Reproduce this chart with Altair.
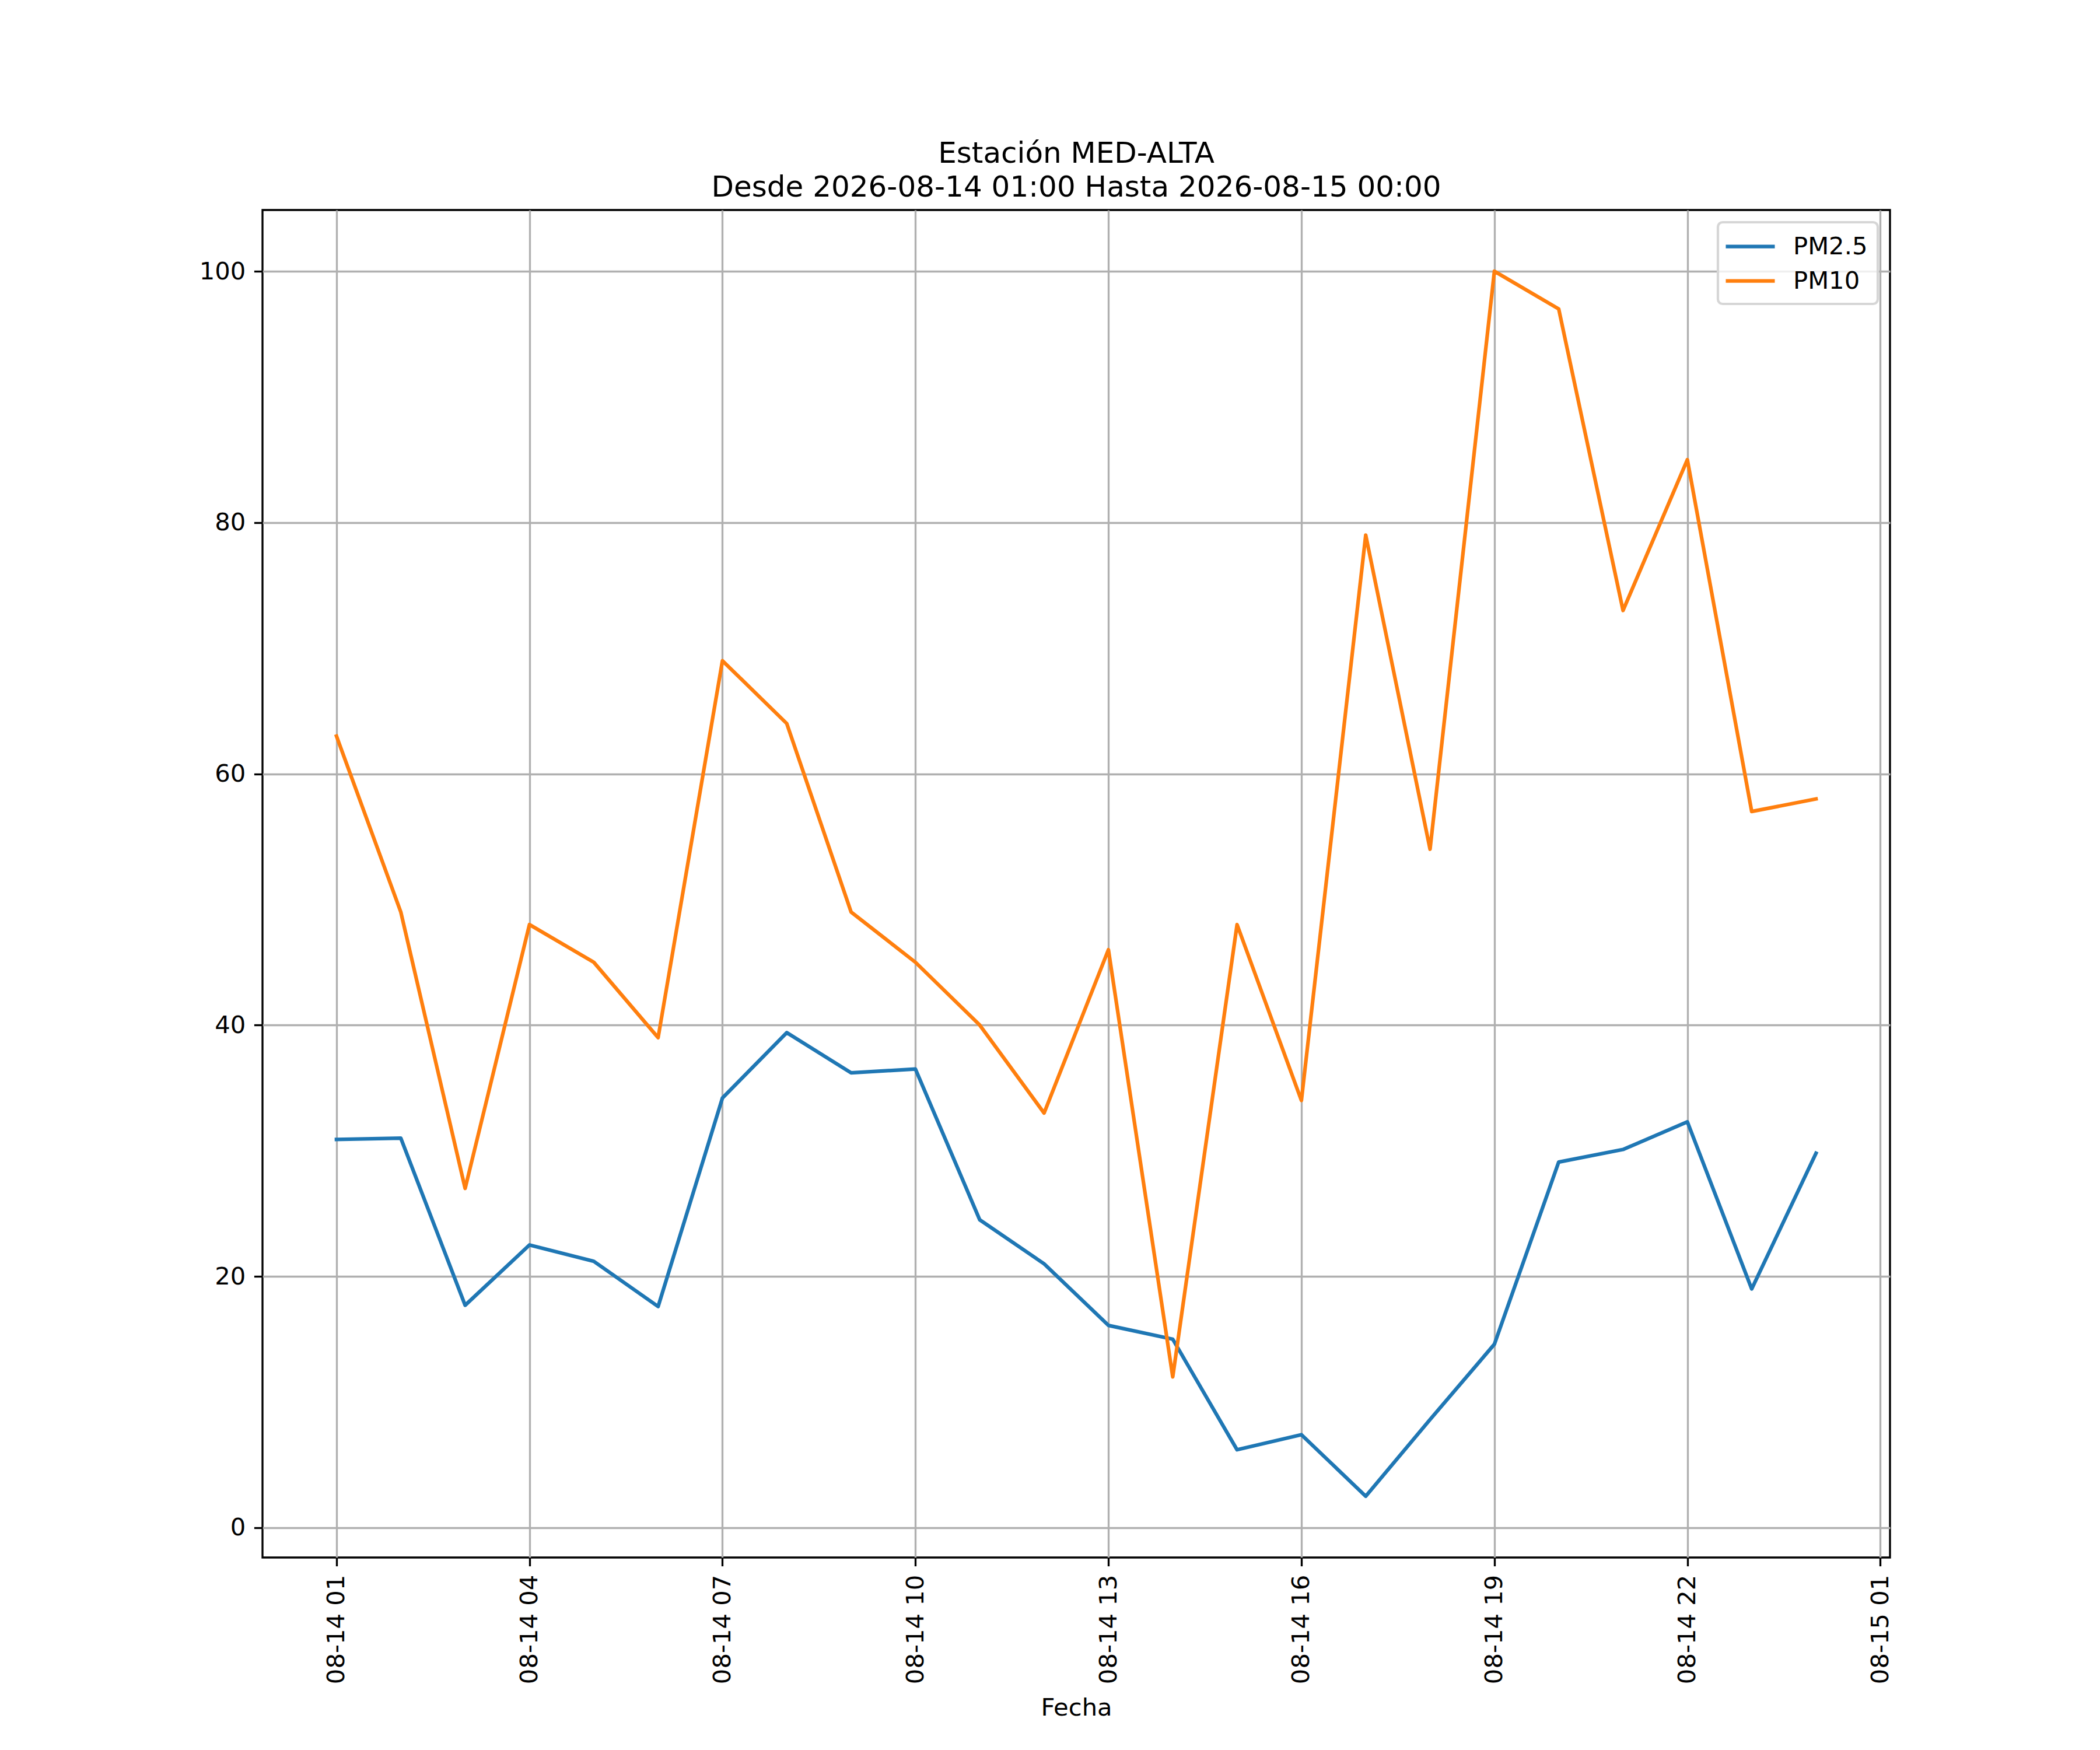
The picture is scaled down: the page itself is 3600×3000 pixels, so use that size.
import altair as alt
import pandas as pd

# ---- data ----
fechas = [
    "2026-08-14T01:00:00", "2026-08-14T02:00:00", "2026-08-14T03:00:00",
    "2026-08-14T04:00:00", "2026-08-14T05:00:00", "2026-08-14T06:00:00",
    "2026-08-14T07:00:00", "2026-08-14T08:00:00", "2026-08-14T09:00:00",
    "2026-08-14T10:00:00", "2026-08-14T11:00:00", "2026-08-14T12:00:00",
    "2026-08-14T13:00:00", "2026-08-14T14:00:00", "2026-08-14T15:00:00",
    "2026-08-14T16:00:00", "2026-08-14T17:00:00", "2026-08-14T18:00:00",
    "2026-08-14T19:00:00", "2026-08-14T20:00:00", "2026-08-14T21:00:00",
    "2026-08-14T22:00:00", "2026-08-14T23:00:00", "2026-08-15T00:00:00",
]
pm25 = [30.9, 31.0, 17.7, 22.5, 21.2, 17.6, 34.2, 39.4, 36.2, 36.5, 24.5, 21.0,
        16.1, 15.0, 6.2, 7.4, 2.5, 8.6, 14.6, 29.1, 30.1, 32.3, 19.0, 29.8]
pm10 = [63, 49, 27, 48, 45, 39, 69, 64, 49, 45, 40, 33,
        46, 12, 48, 34, 79, 54, 100, 97, 73, 85, 57, 58]
series = ["PM2.5", "PM10"]
colores = ["#1f77b4", "#ff7f0e"]
y_ticks = [0, 20, 40, 60, 80, 100]
titulo = ["Estación MED-ALTA", "Desde 2026-08-14 01:00 Hasta 2026-08-15 00:00"]

rows = []
for name, vals in zip(series, [pm25, pm10]):
    for f, v in zip(fechas, vals):
        rows.append({"Fecha": f, "valor": v, "serie": name})
df = pd.DataFrame(rows)

x_ticks = [alt.DateTime(year=2026, month=8, date=14, hours=h) for h in range(1, 24, 3)]
x_ticks.append(alt.DateTime(year=2026, month=8, date=15, hours=1))

FONT = "DejaVu Sans"
FS = 41.7
LW = 3.33

chart = alt.Chart(df).mark_line(strokeWidth=6.25, strokeJoin="round", strokeCap="square").encode(
    x=alt.X(
        "Fecha:T",
        title="Fecha",
        scale=alt.Scale(domain=[
            alt.DateTime(year=2026, month=8, date=13, hours=23, minutes=51),
            alt.DateTime(year=2026, month=8, date=15, hours=1, minutes=9),
        ]),
        axis=alt.Axis(values=x_ticks, format="%m-%d %H", labelAngle=270,
                      titlePadding=37, labelFlush=False, labelOverlap=False,
                      labelLimit=1000),
    ),
    y=alt.Y(
        "valor:Q",
        title=None,
        scale=alt.Scale(domain=[-2.375, 104.875], nice=False, zero=False),
        axis=alt.Axis(values=y_ticks, labelOverlap=False, labelLimit=1000),
    ),
    color=alt.Color(
        "serie:N",
        title=None,
        sort=series,
        scale=alt.Scale(domain=series, range=colores),
        legend=alt.Legend(
            orient="top-right", offset=21, padding=17,
            strokeColor="#d6d6d6", cornerRadius=8,
            fillColor="rgba(255,255,255,0.8)",
            symbolType="M-2,0H2", symbolSize=1764, symbolStrokeWidth=6.25,
            symbolOffset=14,
            labelFont=FONT, labelFontSize=FS, labelColor="black",
            labelOffset=49, rowPadding=12, labelLimit=1000,
        ),
    ),
    order=alt.Order("serie:N", sort="descending"),
).properties(
    width=2790,
    height=2310,
    padding={"left": 442, "top": 352, "right": 352, "bottom": 322},
    autosize=alt.AutoSizeParams(type="none"),
    background="white",
    title=alt.TitleParams(
        text=titulo, font=FONT, fontSize=50, fontWeight="normal",
        color="black", anchor="middle", frame="group", offset=13,
        lineHeight=58,
    ),
).configure_view(
    stroke="black", strokeWidth=LW,
).configure_legend(
    strokeWidth=4.2,
).configure_axis(
    domain=False,
    grid=True, gridColor="#b0b0b0", gridWidth=LW, gridOpacity=1,
    ticks=True, tickColor="black", tickWidth=LW, tickSize=14.6,
    labelPadding=14.6, labelFont=FONT, labelFontSize=FS, labelColor="black",
    titleFont=FONT, titleFontSize=FS, titleFontWeight="normal", titleColor="black",
)

chart.save("out.html", embed_options={"renderer": "svg", "actions": False})
